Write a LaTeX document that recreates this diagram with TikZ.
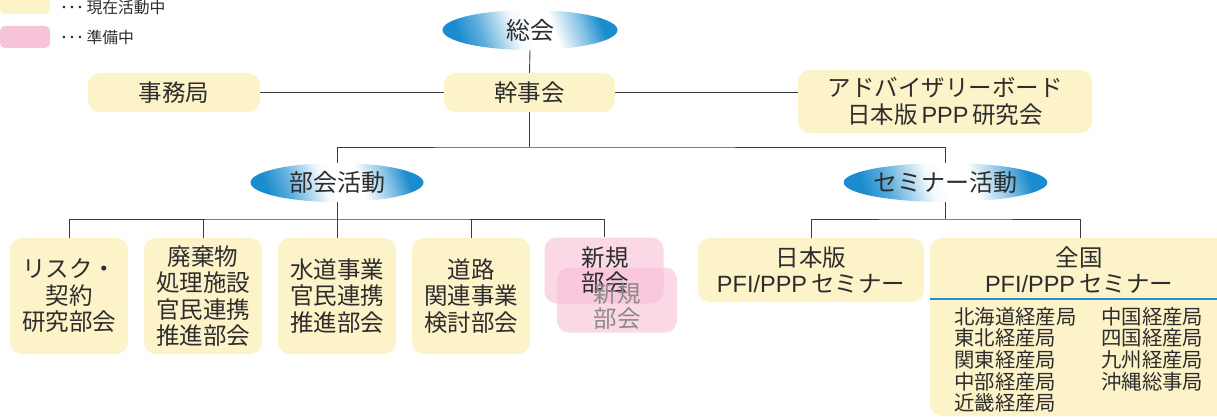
\documentclass[tikz,border=0pt]{standalone}
\usepackage{fontspec}
\setmainfont{Noto Sans CJK JP}
\newfontfamily\lat{Liberation Sans}
\usetikzlibrary{shapes.geometric}
\definecolor{ycream}{RGB}{253,243,201}
\definecolor{lpink}{RGB}{247,195,218}
\definecolor{npink}{RGB}{248,190,214}
\definecolor{eblue}{RGB}{27,140,206}
\definecolor{txt}{RGB}{45,45,45}
\definecolor{lncol}{RGB}{60,60,60}
\definecolor{sepblue}{RGB}{40,140,200}
\pgfdeclarehorizontalshading{ellsh}{100bp}{color(0bp)=(eblue); color(25bp)=(eblue); color(33bp)=(eblue!70); color(45bp)=(eblue!5); color(50bp)=(white); color(58bp)=(white); color(68bp)=(eblue!55); color(75bp)=(eblue); color(100bp)=(eblue)}
\tikzset{
  ybox/.style={fill=ycream, rounded corners=12pt, draw=none, align=center, text=txt, inner sep=0pt, font=\fontsize{23.5}{26.5}\selectfont},
  pbox/.style={fill=npink, fill opacity=0.6, rounded corners=12pt, draw=none, inner sep=0pt},
  ell/.style={ellipse, shading=ellsh, shading angle=20, draw=none, inner sep=0pt, text=txt, font=\fontsize{24}{26}\selectfont},
  conn/.style={draw=lncol, line width=0.9pt},
  listtxt/.style={anchor=north west, align=left, inner sep=0pt, text=txt, font=\fontsize{20.4}{21.6}\selectfont},
  legtxt/.style={anchor=west, inner sep=0pt, text=txt, font=\fontsize{15.8}{17}\selectfont}
}
\begin{document}
\begin{tikzpicture}[x=1pt,y=-1pt]
\useasboundingbox (0,0) rectangle (1217,417);
\begin{scope}
\clip (0,0) rectangle (1217,417);
% legend
\node[fill=ycream, rounded corners=5pt, minimum width=50pt, minimum height=26pt, inner sep=0pt] (legy) at (25,1) {};
\node[fill=lpink, rounded corners=5pt, minimum width=50pt, minimum height=22pt, inner sep=0pt] (legp) at (25,37) {};
\node[legtxt] (legyt) at (60,8) {･･･\,現在活動中};
\node[legtxt] (legpt) at (60,37) {･･･\,準備中};

% top level
\node[ell, minimum width=175pt, minimum height=40pt] (soukai) at (530,30) {総会};
\node[ybox, minimum width=172pt, minimum height=39pt] (jimu) at (174,92.5) {事務局};
\node[ybox, minimum width=171pt, minimum height=39pt] (kanji) at (529.5,92.5) {幹事会};
\node[ybox, minimum width=294pt, minimum height=63pt] (adv) at (945,101.5) {アドバイザリーボード\\日本版{\lat\,PPP\,}研究会};

% activity ellipses
\node[ell, minimum width=173pt, minimum height=39pt] (bukai) at (337,182.5) {部会活動};
\node[ell, minimum width=174pt, minimum height=39pt] (seminar) at (945.5,182.5) {セミナー活動};

% committee boxes
\node[ybox, minimum width=118pt, minimum height=116pt] (b1) at (69,296) {リスク・\\契約\\研究部会};
\node[ybox, minimum width=118pt, minimum height=116pt] (b2) at (203,296) {廃棄物\\処理施設\\官民連携\\推進部会};
\node[ybox, minimum width=118pt, minimum height=116pt] (b3) at (337,296) {水道事業\\官民連携\\推進部会};
\node[ybox, minimum width=118pt, minimum height=116pt] (b4) at (471,296) {道路\\関連事業\\検討部会};
\node[pbox, minimum width=119pt, minimum height=66pt] (nb1) at (604,270.5) {};
\node[pbox, minimum width=120pt, minimum height=65pt] (nb2) at (617,300) {};
\node[align=center, inner sep=0pt, text=txt, font=\fontsize{23.5}{25}\selectfont] (nb1t) at (605,270) {新規\\部会};
\node[align=center, inner sep=0pt, text=txt!55, font=\fontsize{23.5}{25}\selectfont] (nb2t) at (617,306) {新規\\部会};

% seminar boxes
\node[ybox, minimum width=226pt, minimum height=64pt] (nihon) at (811,270) {日本版\\{\lat PFI/PPP\,}セミナー};
\node[fill=ycream, rounded corners=12pt, minimum width=300pt, minimum height=178pt, inner sep=0pt] (zenkoku) at (1080,327) {};
\node[align=center, inner sep=0pt, text=txt, font=\fontsize{23.5}{26.5}\selectfont] (zent) at (1079,270) {全国\\{\lat PFI/PPP\,}セミナー};
\coordinate (sepl) at (930,299);
\coordinate (sepr) at (1217,299);
\draw[draw=sepblue, line width=1.5pt] (sepl) -- (sepr);
\node[listtxt] (listl) at (954,307) {北海道経産局\\東北経産局\\関東経産局\\中部経産局\\近畿経産局};
\node[listtxt] (listr) at (1101,307) {中国経産局\\四国経産局\\九州経産局\\沖縄総事局};

% connectors
\draw[conn] (soukai.south) -- (kanji.north);
\draw[conn] (jimu.east) -- (kanji.west);
\draw[conn] (kanji.east) -- (kanji.east -| adv.west);
\coordinate (jc) at (529.5,147);
\draw[conn] (kanji.south) -- (jc);
\draw[conn] (bukai.north) |- (jc) -| (seminar.north);
\coordinate (bh) at (337,219);
\draw[conn] (bukai.south) -- (b3.north);
\draw[conn] (b1.north) |- (bh) -| (nb1.north);
\draw[conn] (b2.north) -- (b2.north |- bh);
\draw[conn] (b4.north) -- (b4.north |- bh);
\coordinate (sh) at (945.5,219);
\draw[conn] (seminar.south) -- (sh);
\draw[conn] (nihon.north) |- (sh) -| (zenkoku.north);
\end{scope}
\end{tikzpicture}
\end{document}
